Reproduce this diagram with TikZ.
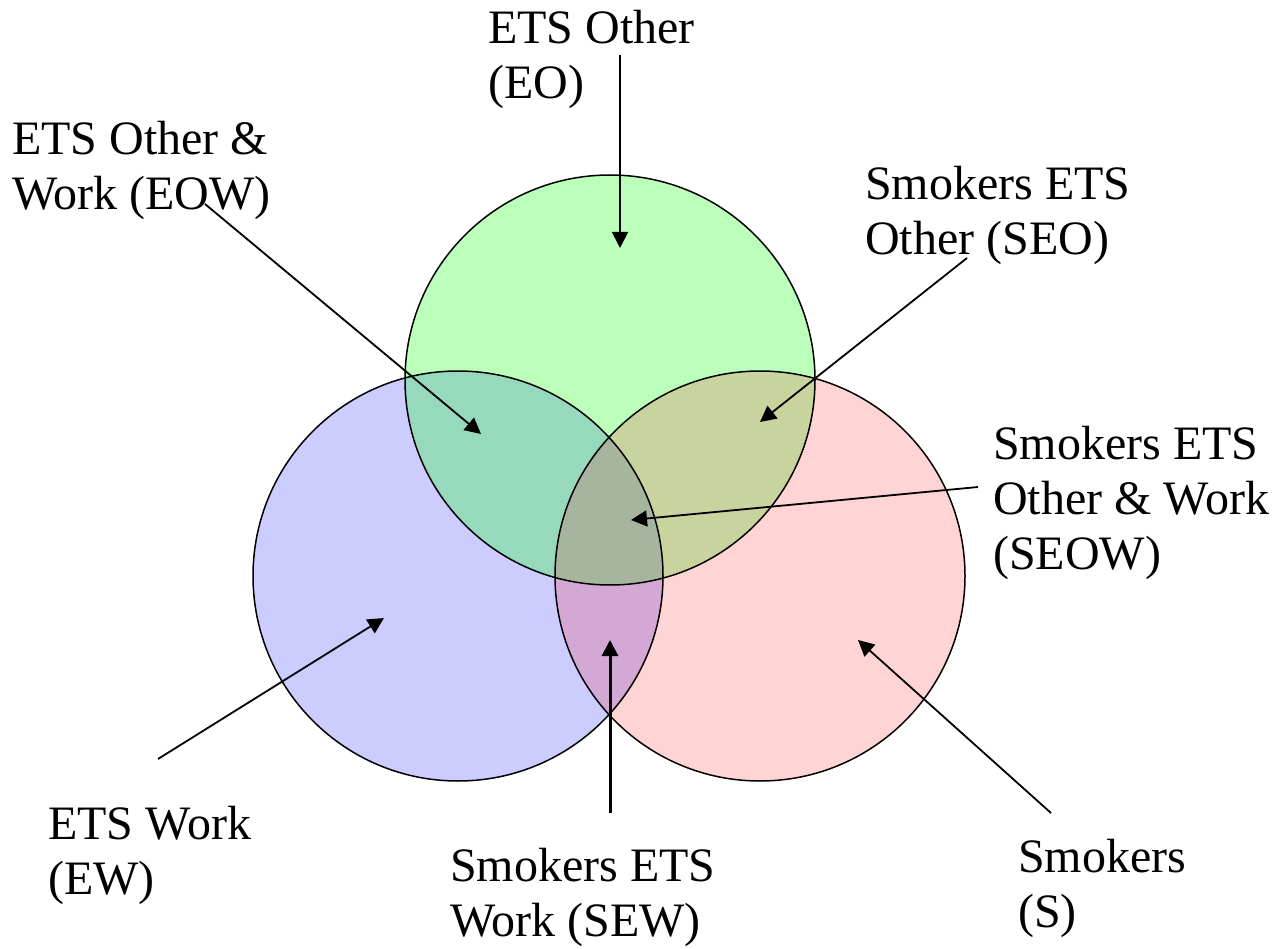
\documentclass[tikz,border=0pt]{standalone}
\usepackage{fontspec}
\setmainfont{Liberation Serif}
\usetikzlibrary{arrows.meta}
\definecolor{otherfill}{HTML}{BBFFBB}
\definecolor{workfill}{HTML}{CCCCFF}
\definecolor{smokefill}{HTML}{FFD4D4}
\definecolor{eowfill}{HTML}{96D9BC}
\definecolor{seofill}{HTML}{C8D39E}
\definecolor{sewfill}{HTML}{D4A8D4}
\definecolor{seowfill}{HTML}{A8B59E}
\tikzset{
		label text/.style={font=\fontsize{48}{55}\selectfont, align=left, inner sep=0pt, anchor=north west},
		pointer/.style={-{Triangle[length=16pt,width=16pt]}, line width=1.8pt},
		ring/.style={draw=black, line width=1.5pt}
	}

\begin{document}
\begin{tikzpicture}[x=1pt,y=-1pt]
				\useasboundingbox (0,0) rectangle (1282,949);
				% circle centres
				\coordinate (cO) at (610,380);
				\coordinate (cW) at (458,576);
				\coordinate (cS) at (760,576);
				\def\rad{205}

				% single regions
				\fill[workfill]  (cW) circle (\rad);
				\fill[smokefill] (cS) circle (\rad);
				\fill[otherfill] (cO) circle (\rad);
				% overlaps
				\begin{scope}
					\clip (cW) circle (\rad);
					\fill[eowfill] (cO) circle (\rad);
					\fill[sewfill] (cS) circle (\rad);
				\end{scope}
				\begin{scope}
					\clip (cO) circle (\rad);
					\fill[seofill] (cS) circle (\rad);
					\clip (cW) circle (\rad);
					\fill[seowfill] (cS) circle (\rad);
				\end{scope}
				\draw[ring] (cW) circle (\rad);
				\draw[ring] (cS) circle (\rad);
				\draw[ring] (cO) circle (\rad);

				% labels
				\node[label text] (eo)   at (488,10)  {ETS Other\\(EO)};
				\node[label text] (eow)  at (12,121)  {ETS Other \&\\Work (EOW)};
				\node[label text] (seo)  at (865,166) {Smokers ETS\\Other (SEO)};
				\node[label text] (seow) at (993,426) {Smokers ETS\\Other \& Work\\(SEOW)};
				\node[label text] (ew)   at (48,806)  {ETS Work\\(EW)};
				\node[label text] (sew)  at (450,848) {Smokers ETS\\Work (SEW)};
				\node[label text] (s)    at (1018,839) {Smokers\\(S)};

				% arrow ends
				\coordinate (eo tail)   at (620,55);   \coordinate (eo tip)   at (620,248);
				\coordinate (eow tail)  at (205,204);  \coordinate (eow tip)  at (481,434);
				\coordinate (seo tail)  at (967,258);  \coordinate (seo tip)  at (760,422);
				\coordinate (seow tail) at (978,487);  \coordinate (seow tip) at (631,520);
				\coordinate (ew tail)   at (158,759);  \coordinate (ew tip)   at (384,618);
				\coordinate (sew tail)  at (610,813);  \coordinate (sew tip)  at (610,640);
				\coordinate (s tail)    at (1051,813); \coordinate (s tip)    at (858,640);

				\draw[pointer] (eo tail)   -- (eo tip);
				\draw[pointer] (eow tail)  -- (eow tip);
				\draw[pointer] (seo tail)  -- (seo tip);
				\draw[pointer] (seow tail) -- (seow tip);
				\draw[pointer] (ew tail)   -- (ew tip);
				\draw[pointer, line width=3pt] (sew tail) -- (sew tip);
				\draw[pointer] (s tail)    -- (s tip);
			\end{tikzpicture}
\end{document}
